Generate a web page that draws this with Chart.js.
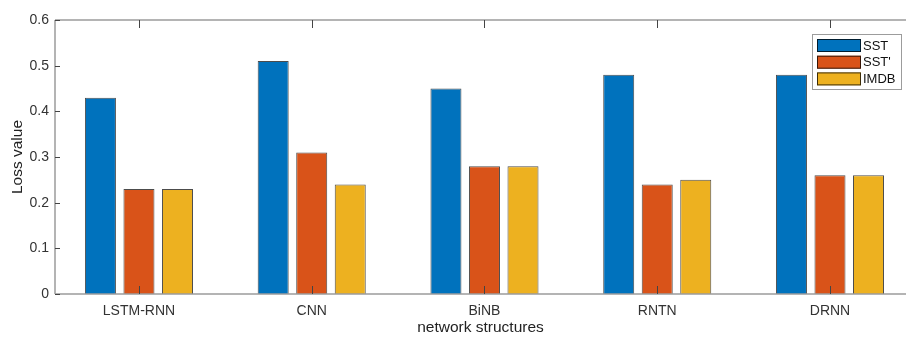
<!DOCTYPE html>
<html>
<head>
<meta charset="utf-8">
<script src="https://cdn.jsdelivr.net/npm/chart.js@4.4.0/dist/chart.umd.min.js"></script>
<style>
  html, body { margin: 0; padding: 0; background: #fff; overflow: hidden; }
</style>
</head>
<body>
<canvas id="myChart" width="906" height="338"></canvas>
<script>
// data
const categories = ['LSTM-RNN', 'CNN', 'BiNB', 'RNTN', 'DRNN'];
const seriesNames = ['SST', "SST'", 'IMDB'];
const sst = [0.43, 0.51, 0.45, 0.48, 0.48];
const sstPrime = [0.23, 0.31, 0.28, 0.24, 0.26];
const imdb = [0.23, 0.24, 0.28, 0.25, 0.26];
const seriesColors = ['#0072BD', '#D95319', '#EDB120'];
const yTicks = [0, 0.1, 0.2, 0.3, 0.4, 0.5, 0.6];

const fontFam = '"Liberation Sans", Arial, Helvetica, sans-serif';

function toPoints(vals) {
  return vals.map((v, i) => ({ x: i + 1, y: v }));
}

// matlab style box + inward ticks + legend inside the axes
const matlabBox = {
  id: 'matlabBox',
  afterDraw(chart) {
    const ctx = chart.ctx;
    const a = chart.chartArea;
    const xs = chart.scales.x, ys = chart.scales.y;
    ctx.save();
    ctx.strokeStyle = '#9c9c9c';
    ctx.lineWidth = 1.5;
    ctx.beginPath();
    ctx.moveTo(a.left, a.top); ctx.lineTo(a.right + 2, a.top);
    ctx.moveTo(a.left, a.bottom); ctx.lineTo(a.right + 2, a.bottom);
    ctx.moveTo(a.left, a.top); ctx.lineTo(a.left, a.bottom);
    ctx.stroke();

    ctx.strokeStyle = '#444';
    ctx.lineWidth = 1;
    ctx.beginPath();
    categories.forEach((c, i) => {
      const px = Math.round(xs.getPixelForValue(i + 1)) + 0.5;
      ctx.moveTo(px, a.bottom); ctx.lineTo(px, a.bottom - 8);
      ctx.moveTo(px, a.top); ctx.lineTo(px, a.top + 8);
    });
    yTicks.forEach(v => {
      const py = Math.round(ys.getPixelForValue(v)) + 0.5;
      ctx.moveTo(a.left, py); ctx.lineTo(a.left + 5, py);
    });
    ctx.stroke();

    // legend
    const lx = a.right - 94, ly = a.top + 14;
    ctx.fillStyle = '#fff';
    ctx.fillRect(lx, ly, 89, 55);
    ctx.strokeStyle = '#9c9c9c';
    ctx.lineWidth = 1;
    ctx.strokeRect(lx + 0.5, ly + 0.5, 89, 55);
    ctx.font = '13px ' + fontFam;
    ctx.textBaseline = 'middle';
    ctx.textAlign = 'left';
    seriesNames.forEach((name, i) => {
      const ry = ly + 5 + i * 16.7;
      ctx.fillStyle = seriesColors[i];
      ctx.fillRect(lx + 5, ry, 44, 13);
      ctx.strokeStyle = 'rgba(0,0,0,0.75)';
      ctx.strokeRect(lx + 5.5, ry + 0.5, 43, 12);
      ctx.fillStyle = '#111';
      ctx.fillText(name, lx + 51, ry + 7);
    });
    ctx.restore();
  }
};

const ctx = document.getElementById('myChart');

new Chart(ctx, {
  type: 'bar',
  data: {
    datasets: [
      { label: seriesNames[0], data: toPoints(sst), backgroundColor: seriesColors[0] },
      { label: seriesNames[1], data: toPoints(sstPrime), backgroundColor: seriesColors[1] },
      { label: seriesNames[2], data: toPoints(imdb), backgroundColor: seriesColors[2] }
    ]
  },
  options: {
    responsive: false,
    animation: false,
    devicePixelRatio: 1,
    layout: { padding: { top: 20, left: 0, right: 0, bottom: 0 } },
    datasets: {
      bar: {
        categoryPercentage: 0.669,
        barPercentage: 0.805,
        borderWidth: 1,
        borderColor: 'rgba(0,0,0,0.7)'
      }
    },
    plugins: {
      legend: { display: false },
      tooltip: { enabled: false }
    },
    scales: {
      x: {
        type: 'linear',
        bounds: 'data',
        offset: false,
        min: 0.514,
        max: 5.44,
        grid: { display: false, drawTicks: false, offset: false },
        border: { display: false },
        afterBuildTicks: s => { s.ticks = categories.map((c, i) => ({ value: i + 1 })); },
        afterFit: s => { s.height = 44; },
        ticks: {
          autoSkip: false,
          maxRotation: 0,
          padding: 9,
          color: '#333',
          font: { family: fontFam, size: 14 },
          callback: v => categories[v - 1]
        },
        title: {
          display: true,
          text: 'network structures',
          color: '#222',
          font: { family: fontFam, size: 15.5 },
          padding: { top: 0, bottom: 1 }
        }
      },
      y: {
        min: 0,
        max: 0.6,
        grid: { display: false, drawTicks: false },
        border: { display: false },
        afterBuildTicks: s => { s.ticks = yTicks.map(v => ({ value: v })); },
        afterFit: s => { s.width = 55; },
        ticks: {
          padding: 6,
          color: '#333',
          font: { family: fontFam, size: 14 },
          callback: v => String(+v.toFixed(1))
        },
        title: {
          display: true,
          text: 'Loss value',
          color: '#222',
          font: { family: fontFam, size: 15.5 },
          padding: { top: 8, bottom: 0 }
        }
      }
    }
  },
  plugins: [matlabBox]
});
</script>
</body>
</html>
